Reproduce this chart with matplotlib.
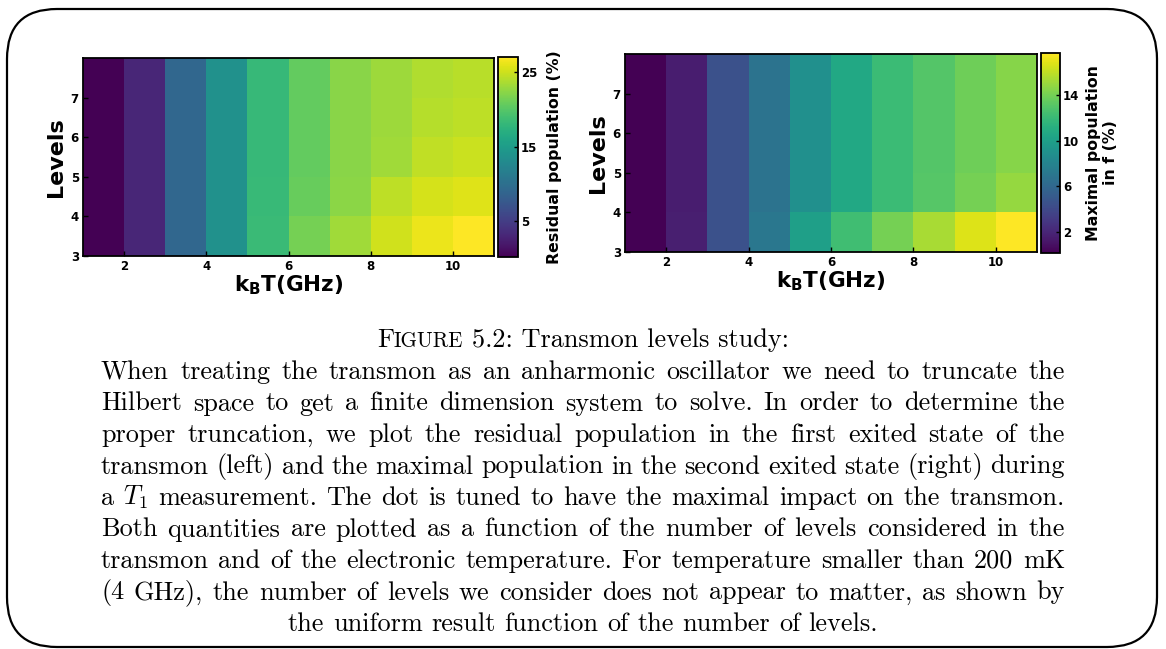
import numpy as np
import matplotlib
matplotlib.use("Agg")
import matplotlib.pyplot as plt
from matplotlib.patches import FancyBboxPatch
from matplotlib.transforms import IdentityTransform

# ---------------- data ----------------
temperature_edges = [1, 2, 3, 4, 5, 6, 7, 8, 9, 10, 11]     # k_B T (GHz)
level_edges = [3, 4, 5, 6, 7, 8]                              # number of levels
x_ticks = [2, 4, 6, 8, 10]
y_ticks = [3, 4, 5, 6, 7]

# Residual population (%) ; rows = levels 3..7, columns = temperature cells
residual_L3 = [0.2, 3.1, 9.0, 13.6, 18.4, 21.4, 23.2, 25.1, 26.2, 27.0]
residual_L4 = [0.2, 3.1, 9.0, 13.6, 18.3, 20.8, 22.3, 24.3, 25.3, 25.7]
residual_L5 = [0.2, 3.1, 9.0, 13.6, 18.2, 20.6, 22.2, 23.2, 24.4, 24.9]
residual_L6 = [0.2, 3.1, 9.0, 13.6, 18.2, 20.6, 22.2, 23.1, 24.0, 24.3]
residual_L7 = [0.2, 3.1, 9.0, 13.6, 18.2, 20.6, 22.2, 23.1, 23.8, 24.1]

# Maximal population in f (%)
maximal_L3 = [0.15, 1.6, 4.5, 7.1, 10.0, 12.3, 14.0, 15.4, 16.8, 17.7]
maximal_L4 = [0.15, 1.55, 4.5, 6.8, 8.9, 10.7, 12.1, 13.1, 14.0, 14.9]
maximal_L5 = [0.15, 1.55, 4.5, 6.8, 8.9, 10.7, 12.1, 13.0, 13.8, 14.5]
maximal_L6 = [0.15, 1.55, 4.5, 6.8, 8.9, 10.7, 12.1, 13.0, 13.8, 14.5]
maximal_L7 = [0.15, 1.55, 4.5, 6.8, 8.9, 10.7, 12.1, 13.0, 13.8, 14.5]

residual_ticks = [5, 15, 25]
maximal_ticks = [2, 6, 10, 14]

caption_title = ["F", "IGURE", "5.2: Transmon levels study:"]
caption_lines = [
    "When treating the transmon as an anharmonic oscillator we need to truncate the",
    "Hilbert space to get a finite dimension system to solve. In order to determine the",
    "proper truncation, we plot the residual population in the first exited state of the",
    "transmon (left) and the maximal population in the second exited state (right) during",
    "a $T_1$ measurement. The dot is tuned to have the maximal impact on the transmon.",
    "Both quantities are plotted as a function of the number of levels considered in the",
    "transmon and of the electronic temperature. For temperature smaller than 200 mK",
    "(4 GHz), the number of levels we consider does not appear to matter, as shown by",
    "the uniform result function of the number of levels.",
]

# ---------------- figure ----------------
W, H = 1166, 649
plt.rcParams['font.family'] = ['DejaVu Sans']
plt.rcParams['font.weight'] = 'bold'
plt.rcParams['axes.labelweight'] = 'bold'
plt.rcParams['mathtext.fontset'] = 'dejavusans'

fig = plt.figure(figsize=(W / 100, H / 100), dpi=100)


def px_rect(x0, y0, x1, y1):
    return [x0 / W, 1 - y1 / H, (x1 - x0) / W, (y1 - y0) / H]


def heat(ax_rect, cax_rect, rows, cticks, clabel, clabelpad):
    ax = fig.add_axes(px_rect(*ax_rect))
    cax = fig.add_axes(px_rect(*cax_rect))
    data = np.array(rows)
    mesh = ax.pcolormesh(temperature_edges, level_edges, data, cmap='viridis',
                         shading='flat')
    ax.set_xlim(temperature_edges[0], temperature_edges[-1])
    ax.set_ylim(level_edges[0], level_edges[-1])
    ax.set_xticks(x_ticks)
    ax.set_yticks(y_ticks)
    ax.tick_params(direction='in', length=3.5, width=1.0, labelsize=8.5,
                   top=False, right=False, pad=3, colors='black')
    for sp in ax.spines.values():
        sp.set_linewidth(1.3)
    ax.set_xlabel(r'k$_{\mathbf{B}}$T(GHz)', fontsize=15.5, labelpad=0)
    ax.set_ylabel('Levels', fontsize=16, labelpad=3)
    cb = fig.colorbar(mesh, cax=cax, ticks=cticks)
    cb.outline.set_linewidth(1.3)
    cax.tick_params(direction='in', length=3, width=1.0, labelsize=8.5, pad=2)
    cb.set_label(clabel, fontsize=11.3, labelpad=clabelpad)
    return ax, cax


heat((83, 58, 494, 256), (498, 57, 518, 257),
     [residual_L3, residual_L4, residual_L5, residual_L6, residual_L7],
     residual_ticks, 'Residual population (%)', 7)
heat((625, 54, 1037, 252), (1041, 53, 1060, 253),
     [maximal_L3, maximal_L4, maximal_L5, maximal_L6, maximal_L7],
     maximal_ticks, 'Maximal population\nin f (%)', 5)

# rounded frame
frame = FancyBboxPatch((7, H - 647), 1150, 638,
                       boxstyle="round,pad=0,rounding_size=50",
                       transform=IdentityTransform(), fill=False,
                       edgecolor='black', linewidth=1.6)
fig.add_artist(frame)

# ---------------- caption ----------------
renderer = fig.canvas.get_renderer()
serif = ['cmr10', 'DejaVu Serif']


def mk(s, x_px, y_px, fs):
    return fig.text(x_px / W, 1 - y_px / H, s, fontsize=fs, family=serif,
                    fontweight='normal', math_fontfamily='cm',
                    ha='left', va='baseline')


def width_of(s, fs):
    t = mk(s, 0, 0, fs)
    w = t.get_window_extent(renderer).width
    t.remove()
    return w


left_px, right_px = 101, 1065
line_w = right_px - left_px
center_px = (left_px + right_px) / 2

# size chosen so the centred last line has the reference width (~590 px)
fs0 = 10.0
fs = fs0 * 590.0 / width_of(caption_lines[-1], fs0)

space_w = width_of("a a", fs) - width_of("aa", fs)

baseline0 = 347.5
step = 31.5

# title line (small caps imitation)
sc = 0.8
w_F = width_of(caption_title[0], fs)
w_I = width_of(caption_title[1], fs * sc)
w_R = width_of(caption_title[2], fs)
total = w_F + w_I + space_w + w_R
x = center_px - total / 2
mk(caption_title[0], x, baseline0, fs)
mk(caption_title[1], x + w_F, baseline0, fs * sc)
mk(caption_title[2], x + w_F + w_I + space_w, baseline0, fs)

for i, ln in enumerate(caption_lines):
    y = baseline0 + step * (i + 1)
    words = ln.split(' ')
    widths = [width_of(wd, fs) for wd in words]
    if i < len(caption_lines) - 1:
        gap = (line_w - sum(widths)) / (len(words) - 1)
        x = left_px
    else:
        gap = space_w
        x = center_px - (sum(widths) + gap * (len(words) - 1)) / 2
    for wd, wdt in zip(words, widths):
        mk(wd, x, y, fs)
        x += wdt + gap

fig.savefig('out.png', dpi=100, facecolor='white')
